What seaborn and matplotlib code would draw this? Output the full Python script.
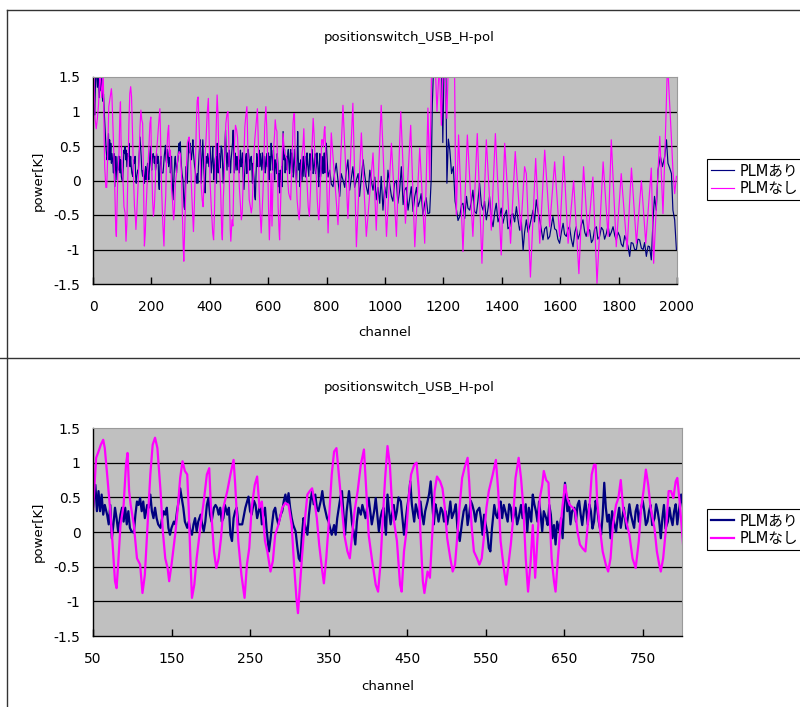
import numpy as np
import pandas as pd
import matplotlib
matplotlib.use("Agg")
import matplotlib.pyplot as plt
import seaborn as sns
from matplotlib.lines import Line2D

# ---------------- data ----------------
title_text = "positionswitch_USB_H-pol"
series_names = ["PLMあり", "PLMなし"]
series_colors = ["#000080", "#FF00FF"]

# PLMあり (navy)
ari_ch_a = [0, 3, 6, 9, 12, 15, 18, 21, 24, 27, 30, 33, 36, 39, 42, 45, 48]
ari_pw_a = [0.85, 1.1, 0.95, 1.5, 1.6, 1.35, 1.55, 1.2, 1.45, 1.3, 1.5, 1.15, 1.25, 0.95, 0.7, 0.45, 0.3]

ari_ch_b = [50, 53, 55, 57, 59, 61, 63, 65, 68, 70,
            72, 74, 76, 78, 80, 82, 85, 87, 89, 91,
            93, 95, 97, 99, 102, 104, 106, 108, 110, 112,
            114, 116, 119, 121, 123, 125, 127, 129, 131, 133,
            136, 138, 140, 142, 144, 146, 148, 150, 153, 155,
            157, 159, 161, 163, 165, 167, 170, 172, 174, 176,
            178, 180, 182, 184, 187, 189, 191, 193, 195, 197,
            199, 201, 204, 206, 208, 210, 212, 214, 216, 218,
            221, 223, 225, 227, 229, 231, 233, 235]
ari_pw_b = [0.35, 0.68, 0.30, 0.59, 0.30, 0.54, 0.25, 0.39, 0.25, 0.11,
            0.39, -0.09, 0.11, 0.35, 0.20, 0.01, 0.25, 0.35, 0.15, 0.35,
            0.11, 0.30, 0.06, 0.01, -0.01, 0.25, 0.44, 0.39, 0.49, 0.30,
            0.44, 0.20, 0.39, 0.35, 0.54, 0.30, 0.20, 0.35, 0.20, 0.11,
            0.06, 0.20, 0.30, 0.25, 0.35, 0.06, -0.04, 0.06, 0.15, 0.11,
            0.30, 0.44, 0.63, 0.49, 0.35, 0.15, 0.06, 0.15, 0.01, -0.04,
            0.11, 0.20, 0.01, 0.15, 0.25, 0.11, 0.01, 0.15, 0.39, 0.49,
            0.25, 0.15, 0.35, 0.39, 0.35, 0.25, 0.35, 0.15, 0.20, 0.39,
            0.25, 0.35, -0.04, -0.13, 0.20, 0.30, 0.35, 0.11]

ari_ch_c = [240, 244, 248, 250, 252, 255, 257, 259, 261, 263,
            265, 267, 269, 271, 274, 276, 278, 280, 282, 284,
            286, 289, 291, 293, 295, 297, 299, 301, 303, 305,
            308, 310, 312, 314, 316, 318, 320, 323, 325, 327,
            329, 331, 333, 335, 337, 340, 342, 344, 346, 348,
            350, 352, 354, 357, 359, 361, 363, 365, 367, 369,
            371, 373, 376, 378, 380, 382, 384, 386, 388, 391,
            393, 395, 397, 399, 401, 403, 405, 408, 410, 412,
            414, 416, 418]
ari_pw_c = [0.11, 0.35, 0.51, 0.30, 0.25, 0.45, 0.39, 0.20, 0.30, 0.40,
            0.11, 0.25, 0.35, 0.05, -0.28, -0.10, 0.11, 0.30, 0.35, 0.20,
            0.11, 0.25, 0.30, 0.45, 0.54, 0.40, 0.56, 0.35, 0.20, 0.10,
            0.01, -0.20, -0.38, -0.42, -0.05, 0.20, 0.10, -0.04, 0.25, 0.45,
            0.59, 0.40, 0.54, 0.35, 0.30, 0.45, 0.59, 0.40, 0.30, 0.20,
            0.15, 0.05, -0.04, 0.10, -0.04, 0.20, 0.35, 0.50, 0.59, 0.25,
            -0.04, 0.30, 0.59, 0.35, 0.11, 0.00, -0.18, 0.15, 0.35, 0.25,
            0.39, 0.30, 0.20, 0.35, 0.49, 0.30, 0.11, 0.30, 0.49, 0.25,
            0.01, 0.20, 0.30]

ari_ch_d = [420, 423, 425, 427, 429, 431, 433, 435, 437, 439,
            442, 444, 446, 448, 450, 452, 454, 456, 459, 461,
            463, 465, 467, 469, 471, 473, 476, 478, 480, 482,
            484, 486, 488, 490, 493, 495, 497, 499, 501, 503,
            505, 507, 510, 512, 514, 517, 520, 522, 525, 527,
            529, 531, 533, 535, 537, 539, 542, 544, 546, 548,
            550, 552, 554, 556, 558, 561, 563, 565, 567, 569,
            571, 573, 575, 578, 580, 582, 584, 586, 588, 590,
            592, 595, 597, 599, 601, 603]
ari_pw_d = [0.35, -0.04, 0.54, 0.30, 0.11, 0.28, 0.39, 0.18, 0.30, 0.50,
            0.44, 0.20, -0.04, 0.15, 0.35, 0.50, 0.73, 0.40, 0.15, 0.40,
            0.30, 0.20, 0.44, 0.25, 0.11, 0.30, 0.44, 0.55, 0.73, 0.40,
            0.11, 0.40, 0.30, 0.15, 0.35, 0.30, 0.15, 0.30, 0.11, 0.25,
            0.44, 0.20, 0.30, 0.40, 0.06, -0.13, 0.15, 0.30, 0.39, 0.10,
            0.25, 0.45, 0.39, 0.30, 0.15, 0.30, 0.35, 0.20, -0.04, 0.25,
            0.11, 0.00, -0.23, -0.28, 0.05, 0.39, 0.25, 0.20, 0.35, 0.44,
            0.20, 0.39, 0.30, 0.15, 0.40, 0.35, 0.15, 0.25, 0.35, 0.11,
            0.20, 0.39, 0.20, 0.30, 0.40, 0.01]

ari_ch_e = [605, 608, 610, 612, 614, 616, 618, 620, 622, 624,
            627, 629, 631, 633, 635, 637, 639, 641, 644, 646,
            648, 651, 654, 656, 658, 660, 663, 665, 667, 669,
            671, 673, 675, 677, 680, 682, 684, 686, 688, 690,
            692, 694, 697, 699, 701, 703, 705, 707, 709, 711,
            714, 716, 718, 720, 722, 724, 726, 729, 731, 733,
            735, 737, 739, 741, 743, 745, 748, 750, 752, 754,
            756, 758, 760, 762, 765, 767, 769, 771, 773, 775,
            777, 779, 782, 784, 786, 788, 790, 792, 794, 796,
            799]
ari_pw_e = [0.35, 0.15, 0.54, 0.40, 0.30, 0.15, 0.44, 0.25, 0.01, 0.30,
            0.20, 0.10, 0.39, 0.25, -0.09, 0.10, -0.18, 0.15, 0.01, 0.20,
            -0.09, 0.71, 0.30, 0.45, 0.11, 0.30, 0.35, 0.15, 0.39, 0.45,
            0.25, 0.10, 0.30, 0.45, 0.11, 0.40, 0.30, 0.05, 0.15, 0.45,
            0.35, 0.15, -0.04, 0.25, 0.71, 0.35, 0.15, 0.25, -0.09, 0.30,
            0.11, 0.00, 0.20, 0.35, 0.06, 0.20, 0.35, 0.05, 0.20, 0.40,
            0.25, 0.15, 0.06, 0.30, 0.39, 0.15, 0.35, 0.45, 0.30, 0.10,
            0.15, 0.30, 0.39, 0.10, 0.20, 0.40, 0.30, 0.15, -0.09, 0.20,
            0.39, 0.05, 0.15, 0.35, 0.20, 0.10, 0.30, 0.40, 0.11, 0.30,
            0.54]

ari_ch_f = [805, 811, 816, 822, 827, 833, 839, 845, 850, 856,
            862, 868, 873, 879, 885, 890, 896, 902, 908, 913,
            919, 925, 930, 936, 942, 948, 953, 959, 965, 970,
            976, 982, 987, 993, 999, 1005, 1010, 1016, 1022, 1027,
            1033, 1039, 1044, 1050, 1056, 1062, 1067, 1073, 1079, 1085,
            1090, 1096, 1102, 1108, 1113, 1119, 1124, 1130, 1136, 1141,
            1147, 1153, 1158, 1162, 1166, 1172, 1180, 1188, 1194, 1198,
            1202, 1208, 1212, 1217, 1222, 1228, 1234, 1240, 1245, 1250,
            1256, 1262, 1267, 1273, 1279, 1284, 1290, 1296, 1301, 1307,
            1313, 1318, 1324, 1330, 1336, 1341, 1347, 1353, 1358, 1364,
            1370, 1376, 1381, 1387, 1393, 1398, 1404, 1410, 1416, 1421,
            1427, 1433, 1438, 1444, 1450, 1455, 1461, 1467, 1473, 1478,
            1484, 1490, 1495, 1501, 1507, 1512, 1518, 1524, 1530, 1535,
            1541, 1547, 1553, 1558, 1564, 1570, 1575, 1581, 1587, 1592,
            1598, 1604, 1610, 1615, 1621, 1627, 1632, 1638, 1644, 1650,
            1655, 1661, 1667, 1672, 1678, 1684, 1689, 1695, 1701, 1707,
            1712, 1718, 1724, 1729, 1735, 1741, 1747, 1752, 1758, 1764,
            1769, 1775, 1781, 1787, 1792, 1798, 1804, 1809, 1815, 1821,
            1826, 1832, 1838, 1843, 1849, 1855, 1861, 1866, 1872, 1878,
            1884, 1889, 1895, 1901, 1906, 1912, 1918, 1923, 1929, 1935,
            1943, 1950, 1958, 1964, 1969, 1975, 1981, 1986, 1992, 1998]
ari_pw_f = [0.05, 0.15, -0.05, -0.09, 0.10, 0.25, 0.00, -0.23, 0.10, 0.01,
            -0.10, 0.15, 0.30, -0.14, 0.05, 0.20, -0.10, 0.01, 0.10, -0.23,
            0.05, 0.30, 0.10, -0.09, -0.20, 0.15, 0.00, -0.14, 0.05, -0.28,
            -0.10, -0.33, 0.06, -0.43, -0.09, -0.25, 0.15, -0.05, -0.23, -0.30,
            -0.04, 0.00, -0.33, -0.15, 0.20, -0.35, -0.14, -0.10, -0.43, -0.25,
            -0.09, -0.45, -0.23, -0.10, -0.38, -0.30, -0.19, -0.50, -0.33, -0.25,
            -0.48, -0.47, 0.00, 1.10, 1.60, 1.90, 1.80, 1.70, 1.60, 0.55,
            1.60, 1.70, -0.04, 0.60, 0.44, 0.10, 0.20, -0.30, -0.43, -0.58,
            -0.52, -0.35, -0.33, -0.55, -0.23, -0.40, -0.43, -0.30, -0.14, -0.45,
            -0.48, -0.30, -0.04, -0.35, -0.43, -0.30, -0.57, -0.40, -0.23, -0.55,
            -0.67, -0.45, -0.33, -0.60, -0.52, -0.40, -0.62, -0.50, -0.43, -0.70,
            -0.67, -0.50, -0.48, -0.60, -0.38, -0.55, -0.72, -0.60, -1.01, -0.75,
            -0.57, -0.75, -0.67, -0.55, -0.43, -0.60, -0.28, -0.45, -0.57, -0.70,
            -0.86, -0.70, -0.67, -0.85, -0.81, -0.65, -0.52, -0.70, -0.72, -0.85,
            -0.91, -0.75, -0.62, -0.78, -0.81, -0.70, -0.67, -0.85, -0.96, -0.75,
            -0.67, -0.85, -0.77, -0.65, -0.57, -0.75, -0.81, -0.70, -0.72, -0.90,
            -0.86, -0.70, -0.67, -0.85, -0.81, -0.68, -0.72, -0.85, -0.77, -0.65,
            -0.81, -0.75, -0.67, -0.80, -0.86, -0.75, -0.81, -0.92, -0.96, -0.80,
            -0.86, -0.95, -1.10, -0.90, -0.91, -1.00, -1.00, -0.85, -0.86, -0.98,
            -1.00, -0.90, -1.10, -0.95, -0.96, -1.15, -0.57, -0.23, -0.43, 0.15,
            0.35, 0.20, 0.35, 0.59, 0.25, 0.18, 0.10, -0.43, -0.57, -1.00]

# PLMなし (magenta)
nashi_ch_a = [0, 3, 7, 11, 15, 19, 24, 30, 35, 40, 44, 47, 50]
nashi_pw_a = [1.0, 1.6, 0.9, 0.75, 0.9, 1.1, 1.6, 1.2, 1.55, 0.2, -0.1, -0.1, 0.3]

nashi_ch_b = [54, 57, 60, 63, 65, 68, 72, 75, 78, 80,
              82, 85, 89, 92, 94, 96, 98, 102, 106, 110,
              113, 116, 119, 123, 126, 129, 132, 136, 139, 142,
              145, 147, 150, 155, 158, 161, 164, 167, 170, 172,
              174, 176, 179, 182, 187, 191, 195, 198, 200, 204,
              207, 210, 213, 216, 221, 225, 229, 231]
nashi_pw_b = [1.07, 1.16, 1.26, 1.33, 1.21, 0.83, 0.30, -0.18, -0.71, -0.81,
              -0.47, 0.10, 0.39, 0.97, 1.14, 0.59, 0.39, 0.10, -0.38, -0.47,
              -0.88, -0.62, 0.00, 0.83, 1.26, 1.36, 1.21, 0.59, 0.00, -0.38,
              -0.52, -0.71, -0.47, 0.00, 0.35, 0.78, 1.02, 0.88, 0.83, 0.30,
              -0.38, -0.95, -0.76, -0.38, 0.10, 0.44, 0.83, 0.92, 0.39, -0.28,
              -0.52, -0.38, -0.09, 0.35, 0.59, 0.83, 1.04, 0.70]

nashi_ch_c = [235, 239, 243, 246, 249, 252, 256, 259, 262, 265,
              269, 272, 276, 279, 282, 286, 291, 295, 299, 303,
              306, 309, 311, 313, 316, 320, 323, 326, 329, 332,
              335, 338, 342, 344, 347, 350, 354, 357, 360, 363,
              366, 370, 374, 377, 380, 383, 387, 391, 395, 398,
              401, 405, 410, 413, 416, 419, 422]
nashi_pw_c = [-0.13, -0.62, -0.95, -0.47, -0.23, 0.35, 0.68, 0.80, 0.35, 0.44,
              -0.13, -0.28, -0.57, -0.42, -0.04, 0.10, 0.35, 0.42, 0.39, 0.10,
              -0.47, -0.95, -1.17, -0.86, -0.38, 0.20, 0.54, 0.59, 0.63, 0.44,
              0.20, -0.18, -0.57, -0.74, -0.38, 0.10, 0.83, 1.16, 1.21, 0.83,
              0.44, -0.04, -0.28, -0.38, -0.04, 0.30, 0.59, 0.97, 1.19, 0.59,
              -0.04, -0.38, -0.76, -0.86, -0.47, 0.20, 0.78]

nashi_ch_d = [425, 428, 431, 434, 437, 441, 443, 446, 449, 452,
              455, 459, 462, 465, 467, 470, 472, 476, 479, 482,
              485, 488, 492, 495, 498, 501, 505, 508, 511, 514,
              517, 520, 523, 527, 529, 532, 535, 539, 542, 545,
              548, 551, 554, 559, 563, 566, 569, 573, 576, 579,
              582, 585, 588, 592, 595, 598, 601]
nashi_pw_d = [1.24, 0.97, 0.35, 0.10, -0.13, -0.76, -0.86, -0.28, 0.00, 0.49,
              0.83, 0.97, 1.00, 0.59, -0.04, -0.71, -0.88, -0.57, -0.66, -0.04,
              0.59, 0.80, 0.73, 0.63, 0.35, -0.09, -0.38, -0.57, -0.47, -0.04,
              0.39, 0.78, 0.92, 1.07, 0.73, 0.10, -0.28, -0.38, -0.47, -0.38,
              -0.04, 0.35, 0.59, 0.83, 1.04, 0.59, -0.13, -0.52, -0.76, -0.47,
              -0.18, 0.20, 0.78, 1.07, 0.78, 0.35, -0.38]

nashi_ch_e = [604, 607, 610, 613, 616, 619, 622, 624, 627, 630,
              632, 634, 637, 639, 642, 645, 648, 651, 654, 657,
              661, 664, 667, 670, 673, 677, 680, 683, 685, 688,
              690, 692, 695, 699, 703, 706, 709, 712, 716, 719,
              722, 725, 729, 733, 737, 741, 745, 748, 751, 754,
              757, 760, 765, 768, 771, 773, 776, 780, 783, 786,
              789, 792, 794, 797, 801]
nashi_pw_e = [-0.86, -0.47, 0.10, -0.66, -0.09, 0.49, 0.68, 0.88, 0.75, 0.71,
              0.10, -0.38, -0.71, -0.86, -0.38, 0.05, 0.39, 0.68, 0.49, 0.39,
              0.35, 0.30, 0.00, -0.18, -0.23, -0.28, 0.10, 0.49, 0.83, 0.97,
              0.97, 0.44, 0.10, -0.28, -0.47, -0.57, -0.38, 0.10, 0.39, 0.49,
              0.75, 0.35, 0.15, -0.04, -0.38, -0.52, -0.13, 0.35, 0.59, 0.90,
              0.68, 0.35, 0.05, -0.28, -0.47, -0.57, -0.38, 0.10, 0.59, 0.59,
              0.49, 0.73, 0.78, 0.44, -0.13]

nashi_ch_f = [805, 816, 839, 856, 873, 890, 902, 919, 936, 959,
              970, 987, 1005, 1022, 1039, 1054, 1070, 1088, 1102, 1119,
              1136, 1147, 1153, 1160, 1170, 1178, 1186, 1193, 1200, 1206,
              1212, 1218, 1228, 1238, 1241, 1244, 1252, 1267, 1282, 1301,
              1316, 1332, 1347, 1364, 1378, 1398, 1410, 1430, 1446, 1465,
              1478, 1484, 1498, 1516, 1530, 1547, 1564, 1581, 1598, 1612,
              1627, 1646, 1664, 1680, 1695, 1712, 1726, 1747, 1764, 1775,
              1792, 1809, 1829, 1844, 1861, 1878, 1893, 1912, 1920, 1930,
              1941, 1952, 1960, 1966, 1969, 1975, 1981, 1986, 1992, 1998]
nashi_pw_f = [-0.76, 0.69, -0.64, 1.09, -0.55, 1.12, -0.96, 0.69, -0.81, 0.40,
              -0.72, 1.09, -0.81, 0.54, -0.81, 1.00, -0.62, 0.80, -0.96, 0.47,
              -0.91, 1.05, 0.00, 1.70, 1.90, 1.00, 1.70, 0.80, 1.90, 1.50,
              0.90, 1.90, 1.80, 1.70, 0.30, -0.50, 0.66, -1.03, 0.66, -0.81,
              0.68, -1.20, 0.59, -0.72, 0.68, -1.08, 0.54, -0.91, 0.42, -0.72,
              0.20, 0.10, -1.40, 0.32, -0.91, 0.44, -0.67, 0.27, -0.81, 0.35,
              -0.91, 0.00, -1.35, 0.20, -0.81, 0.05, -1.49, 0.27, -0.81, 0.59,
              -0.96, 0.10, -1.00, 0.18, -0.91, 0.00, -0.91, 0.18, -1.20, -0.30,
              0.64, -0.48, 0.60, 1.50, 1.60, 1.10, 0.60, 0.15, -0.19, 0.06]

ytick_vals = [-1.5, -1.0, -0.5, 0.0, 0.5, 1.0, 1.5]
ytick_labels = ["-1.5", "-1", "-0.5", "0", "0.5", "1", "1.5"]
top_xticks = [0, 200, 400, 600, 800, 1000, 1200, 1400, 1600, 1800, 2000]
bottom_xticks = [50, 150, 250, 350, 450, 550, 650, 750]

# ---------------- assemble ----------------
ari_ch = ari_ch_a + ari_ch_b + ari_ch_c + ari_ch_d + ari_ch_e + ari_ch_f
ari_pw = ari_pw_a + ari_pw_b + ari_pw_c + ari_pw_d + ari_pw_e + ari_pw_f
nashi_ch = nashi_ch_a + nashi_ch_b + nashi_ch_c + nashi_ch_d + nashi_ch_e + nashi_ch_f
nashi_pw = nashi_pw_a + nashi_pw_b + nashi_pw_c + nashi_pw_d + nashi_pw_e + nashi_pw_f

df = pd.concat([
    pd.DataFrame({"channel": ari_ch, "power": ari_pw, "series": series_names[0]}),
    pd.DataFrame({"channel": nashi_ch, "power": nashi_pw, "series": series_names[1]}),
], ignore_index=True)
palette = dict(zip(series_names, series_colors))

plt.rcParams["font.family"] = ["DejaVu Sans", "Noto Sans CJK JP"]
plt.rcParams["axes.unicode_minus"] = False

W, H = 800, 707
fig = plt.figure(figsize=(W / 100, H / 100), dpi=100)
fig.patch.set_facecolor("white")

FS = 10


def draw_panel(ax, xlim, xticks, lw, title_y, legend_top):
    sns.lineplot(data=df, x="channel", y="power", hue="series", hue_order=series_names,
                 palette=palette, estimator=None, sort=False, ax=ax, linewidth=lw,
                 legend=False)
    ax.set_facecolor("#C0C0C0")
    ax.set_xlim(*xlim)
    ax.set_ylim(ytick_vals[0], ytick_vals[-1])
    ax.set_xticks(xticks)
    ax.set_xticklabels([str(t) for t in xticks])
    ax.set_yticks(ytick_vals)
    ax.set_yticklabels(ytick_labels)
    ax.grid(False)
    for v in ytick_vals[1:-1]:
        ax.axhline(v, color="black", lw=0.9, zorder=0.5)
    for s in ("left", "bottom"):
        ax.spines[s].set_color("black")
        ax.spines[s].set_linewidth(1.0)
    for s in ("top", "right"):
        ax.spines[s].set_color("#9A9A9A")
        ax.spines[s].set_linewidth(0.8)
    ax.tick_params(axis="x", direction="in", length=5, width=1, color="black",
                   pad=11.5, labelsize=FS)
    ax.tick_params(axis="y", length=0, pad=9, labelsize=FS)
    ax.set_xlabel("channel", fontsize=9.5)
    ax.set_ylabel("power[K]", fontsize=9.5)
    fig.text(409 / W, 1 - title_y / H, title_text, ha="center", va="center", fontsize=9.5)
    handles = [Line2D([], [], color=c, lw=lw) for c in series_colors]
    leg = fig.legend(handles, series_names, loc="upper left",
                     bbox_to_anchor=(707 / W, 1 - legend_top / H),
                     bbox_transform=fig.transFigure, frameon=True, fancybox=False,
                     edgecolor="black", facecolor="white", framealpha=1,
                     borderaxespad=0, fontsize=10.5, handlelength=1.6,
                     handletextpad=0.35, borderpad=0.28, labelspacing=0.2)
    leg.get_frame().set_linewidth(0.8)
    return ax


ax1 = fig.add_axes([93 / W, 1 - 284 / H, 584 / W, 207 / H])
draw_panel(ax1, (0, 2000), top_xticks, 0.85, 37, 159)
ax1.xaxis.set_label_coords(0.5, (284 - 333) / 207)
ax1.xaxis.label.set_va("center")
ax1.yaxis.set_label_coords((38 - 93) / 584, 0.5)
ax1.yaxis.label.set_va("center")

ax2 = fig.add_axes([93 / W, 1 - 636 / H, 589 / W, 208 / H])
draw_panel(ax2, (50, 800), bottom_xticks, 1.6, 388, 509)
ax2.xaxis.set_label_coords(0.5, (636 - 686) / 208)
ax2.xaxis.label.set_va("center")
ax2.yaxis.set_label_coords((38 - 93) / 589, 0.5)
ax2.yaxis.label.set_va("center")

# frame lines of the two chart objects
fig.add_artist(Line2D([7 / W, 1], [1 - 10 / H, 1 - 10 / H], transform=fig.transFigure,
                      color="#333333", lw=1))
fig.add_artist(Line2D([7 / W, 7 / W], [0, 1 - 10 / H], transform=fig.transFigure,
                      color="#333333", lw=1))
fig.add_artist(Line2D([0, 1], [1 - 358 / H, 1 - 358 / H], transform=fig.transFigure,
                      color="#333333", lw=1))

fig.savefig("out.png", dpi=100, facecolor="white")
